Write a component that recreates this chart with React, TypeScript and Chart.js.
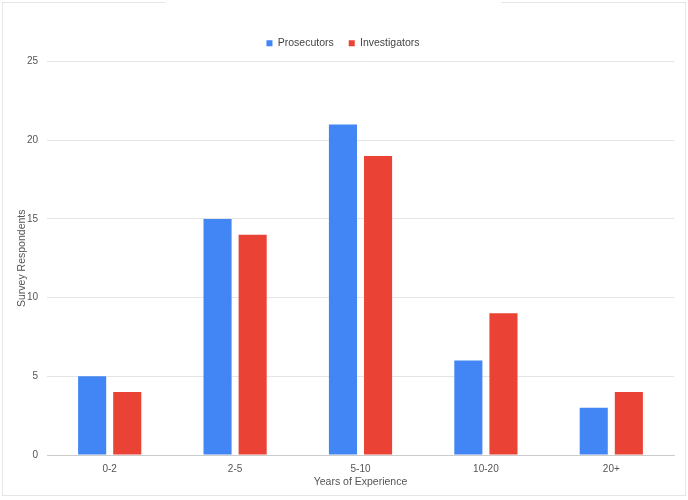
import React, { useEffect, useRef } from "react";
import { Chart, registerables } from "chart.js";

Chart.register(...registerables);

const categories = ["0-2", "2-5", "5-10", "10-20", "20+"];
const prosecutors = [5, 15, 21, 6, 3];
const investigators = [4, 14, 19, 9, 4];
const yTicks = [0, 5, 10, 15, 20, 25];

const FONT = "Arial, 'Liberation Sans'";

const legendGap = {
  id: "legendGap",
  beforeLayout(chart: any) {
    const lg = chart.legend;
    if (lg && !lg.__patched) {
      const orig = lg.fit.bind(lg);
      lg.fit = () => {
        orig();
        lg.height += 3;
      };
      lg.__patched = true;
    }
  },
};

export default function App() {
  const ref = useRef<HTMLCanvasElement>(null);
  useEffect(() => {
    document.body.style.margin = "0";
    const chart = new Chart(ref.current!, {
      type: "bar",
      data: {
        labels: categories,
        datasets: [
          { label: "Prosecutors", data: prosecutors, backgroundColor: "#4285f4", categoryPercentage: 0.56, barPercentage: 0.8 },
          { label: "Investigators", data: investigators, backgroundColor: "#ea4335", categoryPercentage: 0.56, barPercentage: 0.8 },
        ],
      },
      options: {
        animation: false,
        responsive: false,
        layout: { padding: { top: 23, left: 12, right: 14, bottom: 12 } },
        plugins: {
          legend: {
            position: "top",
            labels: {
              boxWidth: 6,
              boxHeight: 6,
              font: { family: FONT, size: 10.5 },
              color: "#444",
              padding: 15,
            },
          },
          tooltip: { enabled: false },
        },
        scales: {
          x: {
            afterFit: (axis: any) => { axis.height = 33; },
            grid: { display: false, drawTicks: false },
            border: { color: "#cccccc" },
            ticks: { color: "#555", font: { family: FONT, size: 10 }, padding: 8 },
            title: { display: true, text: "Years of Experience", color: "#555", font: { family: FONT, size: 10.5 }, padding: { top: 0, bottom: 0 } },
          },
          y: {
            min: 0,
            max: 25,
            afterBuildTicks: (axis: any) => { axis.ticks = yTicks.map((v) => ({ value: v })); },
            afterFit: (axis: any) => { axis.width = 35; },
            grid: { color: "#e4e4e4", drawTicks: false },
            border: { display: false },
            ticks: { color: "#555", font: { family: FONT, size: 10 }, padding: 9 },
            title: { display: true, text: "Survey Respondents", color: "#555", font: { family: FONT, size: 10.5 }, padding: { top: 4, bottom: 0 } },
          },
        },
      },
      plugins: [legendGap],
    });
    return () => chart.destroy();
  }, []);
  return (
    <div style={{ position: "relative", width: 688, height: 500, background: "#fff" }}>
      <canvas ref={ref} width={688} height={500} style={{ position: "absolute", left: 0, top: 0 }} />
      <div style={{ position: "absolute", left: 2, top: 2, width: 682, height: 492, border: "1px solid #e6e6e6", pointerEvents: "none" }} />
      <div style={{ position: "absolute", left: 165, top: 0, width: 336, height: 5, background: "#fff" }} />
    </div>
  );
}
